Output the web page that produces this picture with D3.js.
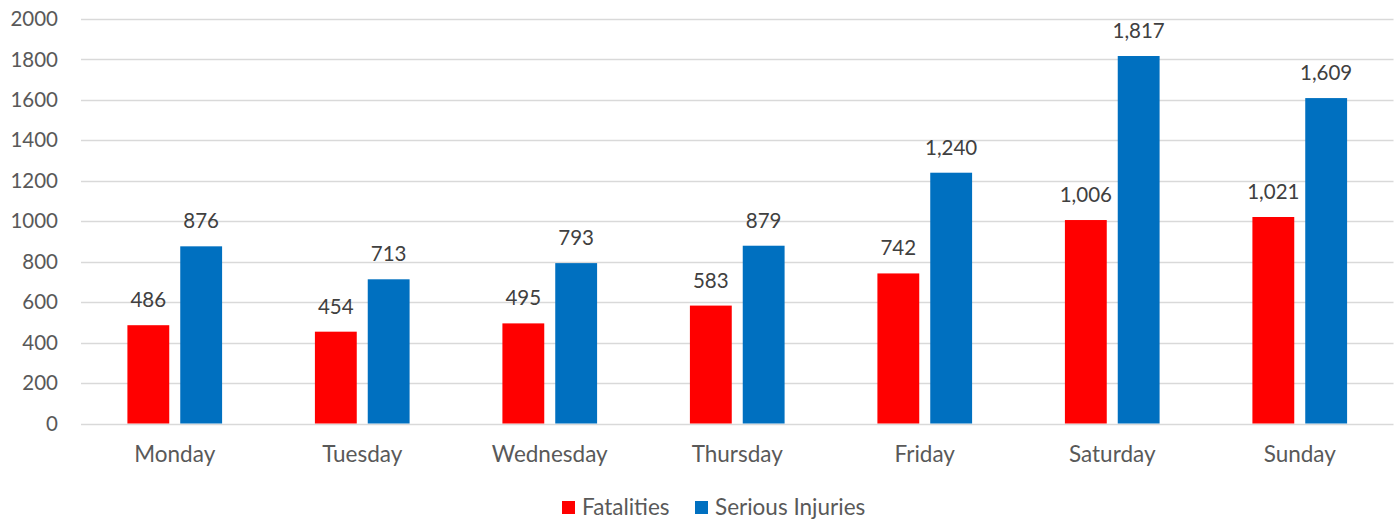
<!DOCTYPE html>
<html>
<head>
<meta charset="utf-8">
<script src="https://cdn.jsdelivr.net/npm/d3@7"></script>
<style>
  body { margin: 0; background: #fff; }
  text { font-family: Lato, "Open Sans", sans-serif; }
</style>
</head>
<body>
<div id="chart"></div>
<script>
// data
var days = ["Monday", "Tuesday", "Wednesday", "Thursday", "Friday", "Saturday", "Sunday"];
var fatalities = [486, 454, 495, 583, 742, 1006, 1021];
var seriousInjuries = [876, 713, 793, 879, 1240, 1817, 1609];
var seriesNames = ["Fatalities", "Serious Injuries"];
var seriesColors = ["#ff0000", "#0070c0"];
var yTicks = [0, 200, 400, 600, 800, 1000, 1200, 1400, 1600, 1800, 2000];

var width = 1395, height = 521;
var margin = { top: 19, right: 1.5, bottom: 97.5, left: 81 };
var chartWidth = width - margin.left - margin.right;
var chartHeight = height - margin.top - margin.bottom;

var svg = d3.select("#chart").append("svg")
    .attr("width", width)
    .attr("height", height);

var chartGroup = svg.append("g")
    .attr("transform", `translate(${margin.left}, ${margin.top})`);

var xScale = d3.scaleBand()
    .domain(days)
    .range([0, chartWidth])
    .paddingInner(0.495)
    .paddingOuter(0.2475);

var xSub = d3.scaleBand()
    .domain(seriesNames)
    .range([0, xScale.bandwidth()])
    .paddingInner(0.208);

var yScale = d3.scaleLinear()
    .domain([0, 2000])
    .range([chartHeight, 0]);

// gridlines
chartGroup.append("g").selectAll("line")
    .data(yTicks)
    .enter()
    .append("line")
    .attr("x1", 0)
    .attr("x2", chartWidth)
    .attr("y1", d => Math.round(yScale(d)) + 0.5)
    .attr("y2", d => Math.round(yScale(d)) + 0.5)
    .attr("stroke", "#d9d9d9")
    .attr("stroke-width", 1.3);

// y axis labels
var left_axis = d3.axisLeft(yScale).tickValues(yTicks).tickFormat(d3.format("d")).tickSize(0).tickPadding(23);
var yAxisG = chartGroup.append("g").call(left_axis);
yAxisG.select(".domain").remove();
yAxisG.selectAll("text")
    .attr("fill", "#595959")
    .attr("font-size", 20.5)
    .style("font-family", "Lato, 'Open Sans', sans-serif");

// x axis labels
var bottom_axis = d3.axisBottom(xScale).tickSize(0);
var xAxisG = chartGroup.append("g")
    .attr("transform", `translate(0, ${chartHeight})`)
    .call(bottom_axis);
xAxisG.select(".domain").remove();
xAxisG.selectAll("text")
    .attr("y", 38)
    .attr("dy", 0)
    .attr("fill", "#595959")
    .attr("font-size", 22.5)
    .style("font-family", "Lato, 'Open Sans', sans-serif");

// bars
var rows = days.map(function(day, i) {
    return { day: day, values: [fatalities[i], seriousInjuries[i]] };
});

var dayGroups = chartGroup.append("g").selectAll("g")
    .data(rows)
    .enter()
    .append("g")
    .attr("transform", d => `translate(${xScale(d.day)}, 0)`);

dayGroups.selectAll("rect")
    .data(d => d.values.map((v, j) => ({ name: seriesNames[j], value: v, color: seriesColors[j] })))
    .enter()
    .append("rect")
    .attr("x", d => xSub(d.name))
    .attr("width", xSub.bandwidth())
    .attr("y", d => yScale(d.value))
    .attr("height", d => chartHeight - yScale(d.value))
    .attr("fill", d => d.color);

// value labels
var fmt = d3.format(",");
dayGroups.selectAll("text.valueLabel")
    .data(d => d.values.map((v, j) => ({ name: seriesNames[j], value: v })))
    .enter()
    .append("text")
    .attr("class", "valueLabel")
    .attr("x", d => xSub(d.name) + xSub.bandwidth() / 2)
    .attr("y", d => yScale(d.value) - 18)
    .attr("text-anchor", "middle")
    .attr("font-size", 20.5)
    .attr("fill", "#404040")
    .text(d => fmt(d.value));

// legend
var legend = svg.append("g").attr("transform", "translate(562, 501)");
var legendX = [0, 133];
seriesNames.forEach(function(name, i) {
    var item = legend.append("g").attr("transform", `translate(${legendX[i]}, 0)`);
    item.append("rect")
        .attr("width", 13)
        .attr("height", 13)
        .attr("fill", seriesColors[i]);
    item.append("text")
        .attr("x", 20)
        .attr("y", 14)
        .attr("font-size", 22.5)
        .attr("fill", "#595959")
        .text(name);
});
</script>
</body>
</html>
